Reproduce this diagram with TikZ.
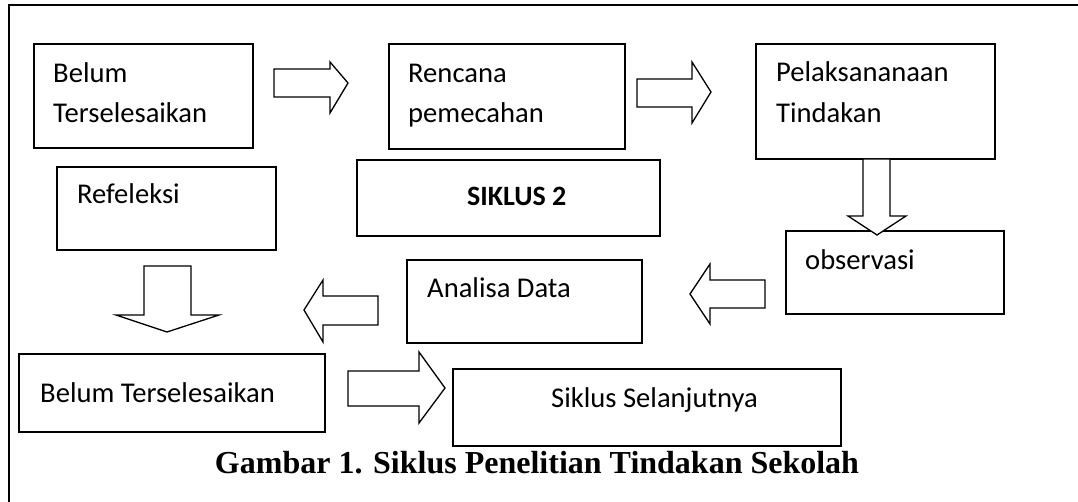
\documentclass[tikz,border=0pt]{standalone}
\usepackage{fontspec}
\setmainfont{Carlito}
\newfontfamily\capfont{Liberation Serif}
\begin{document}
\begin{tikzpicture}[x=1pt,y=-1pt,
  box/.style={draw=black,line width=1.8pt,inner sep=0pt},
  lbl/.style={inner sep=0pt,anchor=base west,align=left,font=\fontsize{28.6}{40}\selectfont},
  blockarrow/.style={draw=black,line width=1.3pt,fill=white,line join=miter}]
\useasboundingbox (0,0) rectangle (1078,502);
% outer frame (top and left edges visible)
\draw[line width=2pt] (9,502) -- (9,5) -- (1078,5);
% boxes
\node[box,anchor=north west,minimum width=219pt,minimum height=104pt] (b1) at (33,43) {};
\node[box,anchor=north west,minimum width=236pt,minimum height=105pt] (b2) at (388,43) {};
\node[box,anchor=north west,minimum width=239pt,minimum height=115pt] (b3) at (755,43) {};
\node[box,anchor=north west,minimum width=219pt,minimum height=83pt] (b4) at (56,166) {};
\node[box,anchor=north west,minimum width=303pt,minimum height=76pt] (b5) at (356,159) {};
\node[box,anchor=north west,minimum width=218pt,minimum height=83pt] (b6) at (785,230) {};
\node[box,anchor=north west,minimum width=235pt,minimum height=83pt] (b7) at (406,259) {};
\node[box,anchor=north west,minimum width=306pt,minimum height=78pt] (b8) at (18,353) {};
\node[box,anchor=north west,minimum width=388pt,minimum height=77pt] (b9) at (452,368) {};
% texts
\node[lbl] (t1a) at (53,83) {Belum};
\node[lbl] (t1b) at (53,123) {Terselesaikan};
\node[lbl] (t2a) at (408,83) {Rencana};
\node[lbl] (t2b) at (408,123) {pemecahan};
\node[lbl] (t3a) at (776,82) {Pelaksananaan};
\node[lbl] (t3b) at (776,123) {Tindakan};
\node[lbl] (t4) at (77,204) {Refeleksi};
\node[lbl,font=\fontsize{28}{40}\selectfont\bfseries] (t5) at (467,206) {SIKLUS 2};
\node[lbl] (t6) at (805,270) {observasi};
\node[lbl] (t7) at (427,298) {Analisa Data};
\node[lbl] (t8) at (40,402) {Belum Terselesaikan};
\node[lbl] (t9) at (551,407) {Siklus Selanjutnya};
% caption
\node[inner sep=0pt,anchor=base,font=\fontsize{32}{38}\selectfont\capfont\bfseries] (cap) at (537,473) {Gambar 1. Siklus Penelitian Tindakan Sekolah};
% block arrows
\draw[blockarrow] (274,69) -- (330,69) -- (330,62) -- (348,83) -- (330,113) -- (330,97) -- (274,97) -- cycle;
\draw[blockarrow] (637,79) -- (692,79) -- (692,62) -- (711,92) -- (692,123) -- (692,107) -- (637,107) -- cycle;
\draw[blockarrow] (863,159) -- (890,159) -- (890,216) -- (906,216) -- (877,235) -- (848,216) -- (863,216) -- cycle;
\draw[blockarrow] (144,266) -- (191,266) -- (191,315) -- (219,315) -- (167,332) -- (116,315) -- (144,315) -- cycle;
\draw[blockarrow] (378,296) -- (323,296) -- (323,280) -- (304,310) -- (323,342) -- (323,325) -- (378,325) -- cycle;
\draw[blockarrow] (765,280) -- (710,280) -- (710,264) -- (690,294) -- (710,324) -- (710,308) -- (765,308) -- cycle;
\draw[blockarrow] (348,371) -- (419,371) -- (419,352) -- (445,388) -- (419,423) -- (419,406) -- (348,406) -- cycle;
\end{tikzpicture}
\end{document}
